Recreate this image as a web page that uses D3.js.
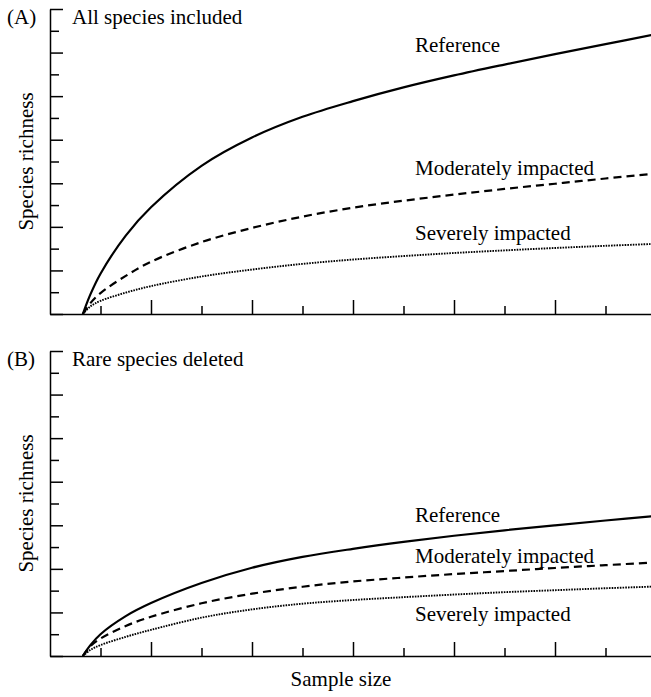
<!DOCTYPE html>
<html>
<head>
<meta charset="utf-8">
<script src="https://cdn.jsdelivr.net/npm/d3@7"></script>
<style>
  body { margin: 0; background: #fff; }
  svg { display: block; }
  text { font-family: "Liberation Serif", "Times New Roman", serif; font-size: 21px; fill: #000; }
</style>
</head>
<body>
<div id="chart"></div>
<script>
// sample size (x units, one tick per unit)
const sampleSize = [0.65, 0.8, 1, 1.5, 2, 3, 4, 5, 6, 7, 8, 9, 10, 11, 12];

// (A) all species included
const refA      = [0, 0.9, 1.85, 3.6, 4.9, 6.8, 8.1, 9.05, 9.77, 10.4, 10.95, 11.45, 11.93, 12.39, 12.84];
const moderateA = [0, 0.5, 0.96, 1.75, 2.4, 3.3, 3.95, 4.47, 4.88, 5.2, 5.48, 5.74, 5.98, 6.22, 6.45];
const severeA   = [0, 0.35, 0.6, 0.98, 1.28, 1.72, 2.04, 2.3, 2.5, 2.66, 2.8, 2.92, 3.03, 3.13, 3.22];

// (B) rare species deleted
const refB      = [0, 0.5, 1.0, 1.83, 2.43, 3.35, 4.05, 4.55, 4.92, 5.24, 5.52, 5.77, 6.0, 6.22, 6.43];
const moderateB = [0, 0.45, 0.8, 1.38, 1.8, 2.42, 2.86, 3.18, 3.42, 3.6, 3.76, 3.9, 4.04, 4.17, 4.3];
const severeB   = [0, 0.28, 0.5, 0.88, 1.2, 1.76, 2.14, 2.4, 2.57, 2.7, 2.82, 2.93, 3.02, 3.11, 3.19];

const seriesNames = ["Reference", "Moderately impacted", "Severely impacted"];
const xTicks = d3.range(1, 12);
const yTicks = d3.range(0, 15);

const width = 651;
const height = 697;
const left = 50;
const panelHeight = 305;

const svg = d3.select("#chart").append("svg")
  .attr("width", width)
  .attr("height", height);

const xScale = d3.scaleLinear()
  .domain([0, 12])
  .range([left, 656]);

const styles = [
  {dash: null, w: 2.2},
  {dash: "8,5", w: 2.2},
  {dash: "1.6,1.1", w: 1.9}
];

function drawPanel(top, tag, title, series, labelY) {
  const yScale = d3.scaleLinear()
    .domain([0, 14])
    .range([top + panelHeight, top]);

  // y axis, ticks pointing inward, alternating long/short
  const yAxis = d3.axisLeft(yScale)
    .tickValues(yTicks)
    .tickSizeOuter(0)
    .tickFormat("");
  const yg = svg.append("g")
    .attr("transform", "translate(" + left + ",0)")
    .call(yAxis);
  yg.selectAll(".tick line")
    .attr("x2", function(d) { return d % 2 ? 9 : 13; });

  // x axis
  const xAxis = d3.axisBottom(xScale)
    .tickValues(xTicks)
    .tickSizeOuter(0)
    .tickFormat("");
  const xg = svg.append("g")
    .attr("transform", "translate(0," + (top + panelHeight) + ")")
    .call(xAxis);
  xg.selectAll(".tick line")
    .attr("y2", function(d) { return d % 2 ? -8 : -14; });

  svg.selectAll(".domain, .tick line")
    .attr("stroke", "#000")
    .attr("stroke-width", 1.5);

  const line = d3.line()
    .x(function(d) { return xScale(d[0]); })
    .y(function(d) { return yScale(d[1]); })
    .curve(d3.curveCatmullRom.alpha(0.5));

  series.forEach(function(vals, i) {
    svg.append("path")
      .datum(sampleSize.map(function(s, j) { return [s, vals[j]]; }))
      .attr("d", line)
      .attr("fill", "none")
      .attr("stroke", "#000")
      .attr("stroke-width", styles[i].w)
      .attr("stroke-dasharray", styles[i].dash);

    svg.append("text")
      .attr("x", 415)
      .attr("y", labelY[i])
      .text(seriesNames[i]);
  });

  svg.append("text")
    .attr("x", 7)
    .attr("y", top + 15)
    .text(tag);
  svg.append("text")
    .attr("x", 72)
    .attr("y", top + 15)
    .text(title);

  svg.append("text")
    .attr("transform", "translate(33," + (top + panelHeight / 2) + ") rotate(-90)")
    .attr("text-anchor", "middle")
    .text("Species richness");
}

drawPanel(9, "(A)", "All species included", [refA, moderateA, severeA], [52, 175, 240]);
drawPanel(351, "(B)", "Rare species deleted", [refB, moderateB, severeB], [522, 563, 621]);

svg.append("text")
  .attr("x", 341)
  .attr("y", 686)
  .attr("text-anchor", "middle")
  .text("Sample size");
</script>
</body>
</html>
